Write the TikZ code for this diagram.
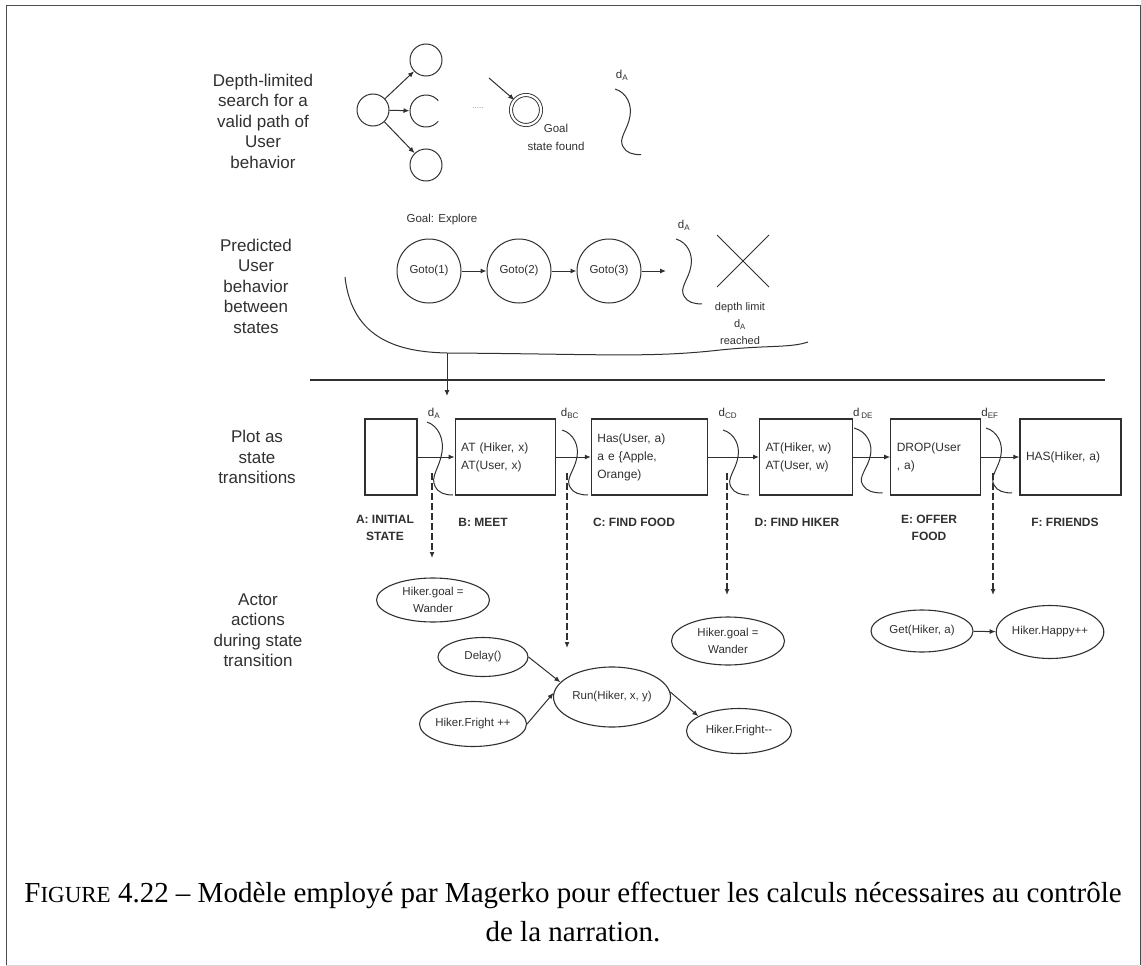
\documentclass[tikz,border=0pt]{standalone}
\usepackage{fontspec}
\setmainfont{Liberation Serif}
\setsansfont{Liberation Sans}
\usetikzlibrary{arrows.meta,positioning,shapes.geometric}
\definecolor{ink}{HTML}{303030}
\newcommand\dsub[1]{d\textsubscript{#1}}

\begin{document}
\begin{tikzpicture}[x=1pt,y=-1pt,
 every node/.style={font=\sffamily,text=ink},
 rowlbl/.style={align=center,font=\sffamily\fontsize{17}{20.5}\selectfont},
 note/.style={align=center,font=\sffamily\fontsize{11.5}{18}\selectfont},
 orb/.style={circle,draw=ink,line width=1pt,minimum size=32pt,inner sep=0pt},
 goto/.style={circle,draw=ink,line width=1pt,minimum size=64pt,inner sep=0pt,
 font=\sffamily\fontsize{11.5}{14}\selectfont},
 stbox/.style={draw=ink,line width=1.2pt,minimum height=76pt,inner xsep=6pt,
 align=left,font=\sffamily\fontsize{12}{18}\selectfont},
 stname/.style={align=center,font=\sffamily\bfseries\fontsize{12}{17}\selectfont},
 act/.style={ellipse,draw=ink,line width=1.1pt,inner sep=0pt,align=center,
 font=\sffamily\fontsize{11.5}{17}\selectfont},
 arr/.style={-{Latex[length=6pt,width=5pt]},line width=1pt,draw=ink},
 dasharr/.style={arr,line width=2.4pt,dash pattern=on 7pt off 3pt},
 curl/.pic={\draw[ink,line width=1pt] (0,0) .. controls (12,4) and (17,18) .. (15,30)
 .. controls (13,45) and (3,55) .. (8,64) .. controls (11,71) and (18,73) .. (26,73);}]
\useasboundingbox (0,0) rectangle (1141,966);
\draw[black!70,line width=1pt] (6,965) -- (6,6) -- (1140,6) -- (1140,965);
\draw[black!15,line width=1pt] (6,965) -- (1140,965);

% search tree
\node[rowlbl] (lsearch) at (263,121) {Depth-limited\\search for a\\valid path of\\User\\behavior};
\node[orb] (root) at (373,110) {};
\node[orb] (c1) at (426,60) {};
\node[orb,draw=none] (c2) at (426,111) {};
\draw[ink,line width=1pt] ([shift={(40:16)}]c2.center) arc[start angle=40,end angle=320,radius=16];
\node[orb] (c3) at (426,165) {};
\draw[arr] (root) -- (c1);
\draw[arr] (root) -- (c2);
\draw[arr] (root) -- (c3);
\node[font=\sffamily\fontsize{8}{8}\selectfont,text=ink!60] (dots) at (478,108) {.....};
\node[circle,draw=ink,double,double distance=2.2pt,line width=0.9pt,minimum size=30pt,inner sep=0pt] (goal) at (526,110) {};
\coordinate (gin) at (489,78);
\draw[arr] (gin) -- (goal);
\node[note] (found) at (556,137) {Goal\\state found};
\node[note] (da1) at (622,75) {\dsub{A}};
\pic[yscale=.9] at (615,89) {curl};

% predicted behaviour
\node[rowlbl] (lpred) at (256,286) {Predicted\\User\\behavior\\between\\states};
\node[note] (explore) at (442,220) {Goal: Explore};
\node[goto] (g1) at (429,271) {Goto(1)};
\node[goto] (g2) at (519,271) {Goto(2)};
\node[goto] (g3) at (609,271) {Goto(3)};
\coordinate (gend) at (666,271);
\draw[arr] (g1) -- (g2);
\draw[arr] (g2) -- (g3);
\draw[arr] (g3) -- (gend);
\node[note] (da2) at (684,225) {\dsub{A}};
\pic[yscale=.89] at (676,239) {curl};
\draw[ink,line width=1pt] (717,235) -- (769,287) (769,235) -- (717,287);
\node[note,font=\sffamily\fontsize{11}{17}\selectfont] (limit) at (740,324) {depth limit\\\dsub{A}\\reached};
\coordinate (cdrop) at (447,353);
\coordinate (ctip) at (447,396);
\draw[ink,line width=1pt] (345,277) .. controls (352,340) and (400,352) .. (cdrop)
 .. controls (600,354) and (650,358) .. (720,350) .. controls (770,345) and (790,348) .. (808,342);
\draw[arr] (cdrop) -- (ctip);
\coordinate (sepl) at (310,380);
\coordinate (sepr) at (1105,380);
\draw[ink,line width=1.2pt] (sepl) -- (sepr);

% plot as state transitions
\node[rowlbl] (lplot) at (257,457) {Plot as\\state\\transitions};
\node[stbox,text width=40pt] (sa) at (391,457) {};
\node[stbox,text width=88pt,right=37pt of sa] (sb) {AT (Hiker, x)\\AT(User, x)};
\node[stbox,text width=104pt,right=35pt of sb] (sc) {Has(User, a)\\a e \{Apple,\\Orange)};
\node[stbox,text width=81pt,right=51pt of sc] (sd) {AT(Hiker, w)\\AT(User, w)};
\node[stbox,text width=78pt,right=37pt of sd] (se) {DROP(User\\, a)};
\node[stbox,text width=89pt,right=38pt of se] (sf) {HAS(Hiker, a)};
\draw[arr] (sa) -- (sb);
\draw[arr] (sb) -- (sc);
\draw[arr] (sc) -- (sd);
\draw[arr] (sd) -- (se);
\draw[arr] (se) -- (sf);
\pic at (427,422) {curl};
\pic[yscale=.89] at (562,430) {curl};
\pic[yscale=.89] at (723,430) {curl};
\pic[yscale=.89,xscale=1.1] at (854,428) {curl};
\pic[yscale=.89] at (986,428) {curl};
\node[note] (dab) at (434,413) {\dsub{A}};
\node[note] (dbc) at (570,413) {\dsub{BC}};
\node[note] (dcd) at (728,413) {\dsub{CD}};
\node[note] (dde) at (863,413) {d\,\textsubscript{DE}};
\node[note] (def) at (990,413) {\dsub{EF}};
\node[stname] (na) at (385,528) {A: INITIAL\\STATE};
\node[stname] (nb) at (483,522) {B: MEET};
\node[stname] (nc) at (634,522) {C: FIND FOOD};
\node[stname] (nd) at (797,522) {D: FIND HIKER};
\node[stname] (ne) at (929,528) {E: OFFER\\FOOD};
\node[stname] (nf) at (1065,522) {F: FRIENDS};

% actor actions
\node[rowlbl] (lactor) at (258,630) {Actor\\actions\\during state\\transition};
\coordinate (t1) at (432,473); \coordinate (t1e) at (432,558);
\coordinate (t2) at (567,473); \coordinate (t2e) at (567,648);
\coordinate (t3) at (727,473); \coordinate (t3e) at (727,595);
\coordinate (t4) at (993,473); \coordinate (t4e) at (993,595);
\draw[dasharr] (t1) -- (t1e);
\draw[dasharr] (t2) -- (t2e);
\draw[dasharr] (t3) -- (t3e);
\draw[dasharr] (t4) -- (t4e);
\node[act,minimum width=113pt,minimum height=44pt] (wander1) at (433,600) {Hiker.goal =\\Wander};
\node[act,minimum width=90pt,minimum height=39pt] (delay) at (483,657) {Delay()};
\node[act,minimum width=107pt,minimum height=45pt] (frup) at (473,724) {Hiker.Fright ++};
\node[act,minimum width=117pt,minimum height=60pt] (run) at (612,697) {Run(Hiker, x, y)};
\node[act,minimum width=105pt,minimum height=45pt] (frdown) at (739,731) {Hiker.Fright-{}-};
\node[act,minimum width=113pt,minimum height=48pt] (wander2) at (728,641) {Hiker.goal =\\Wander};
\node[act,minimum width=102pt,minimum height=42pt] (get) at (922,631) {Get(Hiker, a)};
\node[act,minimum width=101pt,minimum height=53pt] (happy) at (1050,632) {Hiker.Happy++};
\draw[arr] (delay.east) -- (run.164);
\draw[arr] (frup.east) -- (run.176);
\draw[arr] (run.5) -- (frdown.160);
\draw[arr] (get) -- (happy);

% caption
\node[font=\rmfamily\fontsize{29}{39}\selectfont,text=black,align=center] (cap) at (573,912)
 {F{\fontsize{23}{39}\selectfont IGURE} 4.22 -- Modèle employé par Magerko pour effectuer les calculs nécessaires au contrôle\\de la narration.};
\end{tikzpicture}
\end{document}
